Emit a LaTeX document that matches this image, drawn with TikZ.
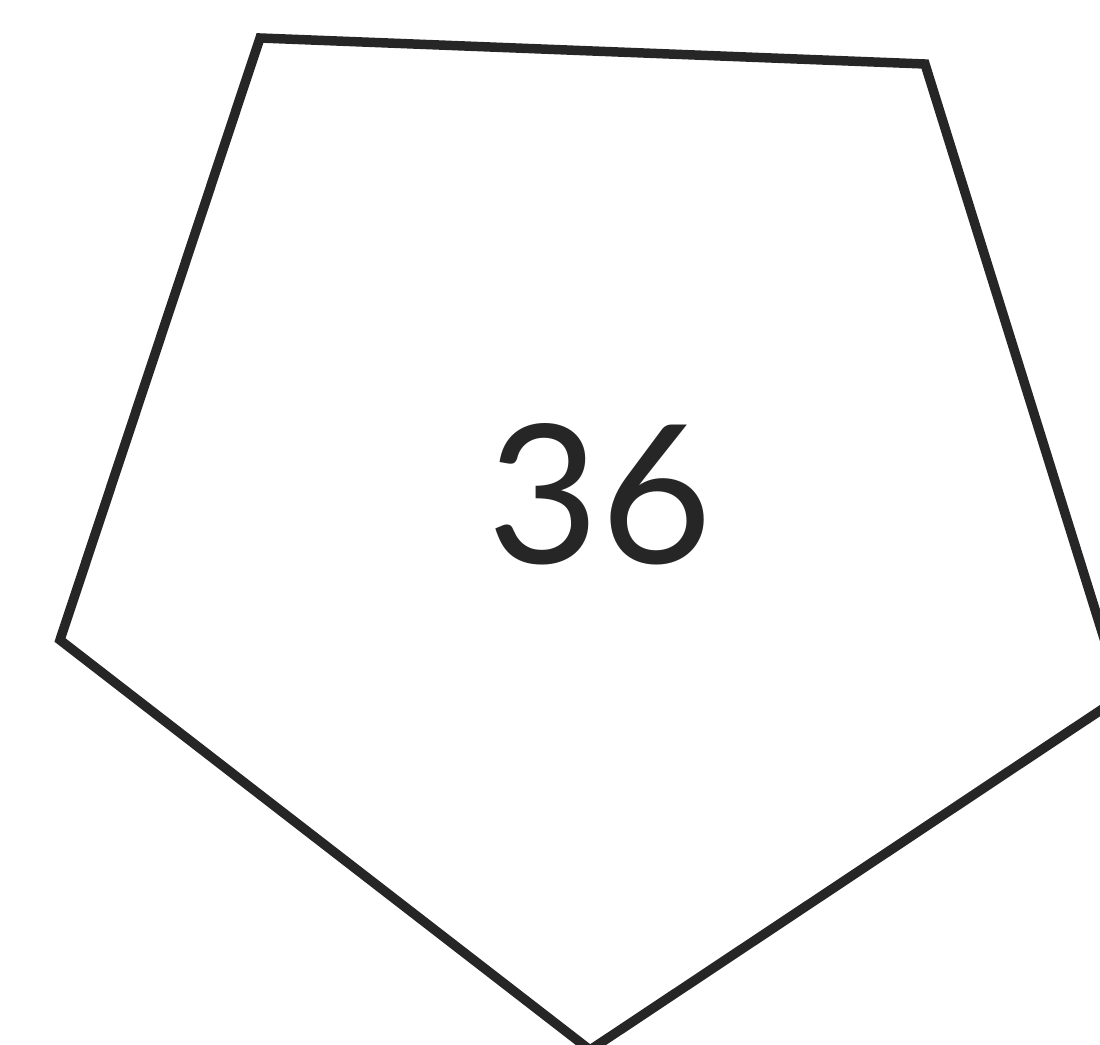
\documentclass[tikz,border=0pt]{standalone}
\usepackage{fontspec}
\newfontfamily\digitfont{Lato}
\usetikzlibrary{positioning}
\tikzset{
  face/.style={draw=black!85, line width=5.4pt, line join=miter},
  facelabel/.style={font=\digitfont\fontsize{110}{120}\selectfont, text=black!85}
}
\begin{document}
\begin{tikzpicture}[x=0.02cm, y=-0.02cm]
  % Frame
  \useasboundingbox (0,0) rectangle (1100,1045);
  \clip (0,0) rectangle (1100,1045);
  % Corners of the pentagon
  \coordinate (tl) at (260,38);
  \coordinate (tr) at (925,64);
  \coordinate (rt) at (1122,696);
  \coordinate (bt) at (590,1050);
  \coordinate (lf) at (60,640);
  \draw[face] (tl) -- (tr) -- (rt) -- (bt) -- (lf) -- cycle;
  % Number
  \node[facelabel] (num) at (600,494) {36};
\end{tikzpicture}
\end{document}
